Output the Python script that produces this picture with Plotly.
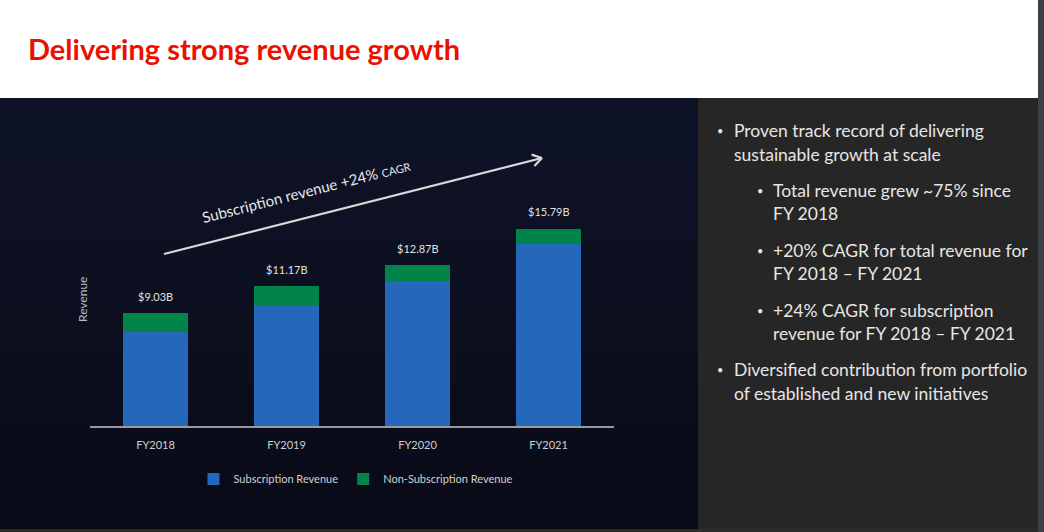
import math
import plotly.graph_objects as go

# ---------------- data ----------------
years = ["FY2018", "FY2019", "FY2020", "FY2021"]
subscription = [7.55, 9.63, 11.60, 14.58]
non_subscription = [1.48, 1.54, 1.27, 1.21]
total_labels = ["$9.03B", "$11.17B", "$12.87B", "$15.79B"]
totals = [s + n for s, n in zip(subscription, non_subscription)]

title_text = "Delivering strong revenue growth"
trend_text = "Subscription revenue +24% <span style='font-size:11px'>CAGR</span>"
bullets = [
    (0, ["Proven track record of delivering", "sustainable growth at scale"]),
    (1, ["Total revenue grew ~75% since", "FY 2018"]),
    (1, ["+20% CAGR for total revenue for", "FY 2018 \u2013 FY 2021"]),
    (1, ["+24% CAGR for subscription", "revenue for FY 2018 \u2013 FY 2021"]),
    (0, ["Diversified contribution from portfolio", "of established and new initiatives"]),
]

W, H = 1044, 532
FONT = "Lato"


def px(x):
    return x / W


def py(y):
    return 1 - y / H


fig = go.Figure()
fig.add_trace(go.Bar(
    x=years, y=subscription, name="Subscription Revenue",
    marker=dict(color="#2467bb", line=dict(width=0)),
))
fig.add_trace(go.Bar(
    x=years, y=non_subscription, name="Non-Subscription Revenue",
    marker=dict(color="#00844a", line=dict(width=0)),
))

shapes = []
shapes.append(dict(type="rect", xref="paper", yref="paper", x0=0, x1=1, y0=0, y1=1,
                   fillcolor="#ffffff", line=dict(width=0), layer="below"))
# bottom strip & right strip
shapes.append(dict(type="rect", xref="paper", yref="paper", x0=0, x1=px(1038),
                   y0=0, y1=py(528), fillcolor="#2b2b2b", line=dict(width=0), layer="below"))
shapes.append(dict(type="rect", xref="paper", yref="paper", x0=px(1038), x1=1,
                   y0=0, y1=1, fillcolor="#3d4147", line=dict(width=0), layer="below"))
# left navy panel base
shapes.append(dict(type="rect", xref="paper", yref="paper", x0=0, x1=px(698),
                   y0=py(529), y1=py(98), fillcolor="#0c0f1f", line=dict(width=0), layer="below"))
# soft vertical gradient bands (overlapping to avoid seams)
n_bands = 12
top_c = (15, 19, 39)
bot_c = (8, 11, 23)
y_top, y_bot = 98, 529
for i in range(n_bands):
    t = i / (n_bands - 1)
    c = tuple(round(top_c[k] + (bot_c[k] - top_c[k]) * t) for k in range(3))
    ya = y_top + (y_bot - y_top) * i / n_bands
    yb = min(y_bot, y_top + (y_bot - y_top) * (i + 1) / n_bands + 3)
    shapes.append(dict(type="rect", xref="paper", yref="paper",
                       x0=px(-2), x1=px(698), y0=py(yb), y1=py(ya),
                       fillcolor="rgb(%d,%d,%d)" % c, line=dict(width=0), layer="below"))
# right gray panel
shapes.append(dict(type="rect", xref="paper", yref="paper", x0=px(698), x1=px(1038),
                   y0=py(529), y1=py(98), fillcolor="#262626", line=dict(width=0), layer="below"))

# trend arrow
ax0, ay0, ax1, ay1 = 164, 254, 542, 158
shapes.append(dict(type="line", xref="paper", yref="paper", x0=px(ax0), y0=py(ay0),
                   x1=px(ax1), y1=py(ay1), line=dict(color="#d9d9d9", width=2.2)))
ang = math.atan2(ay1 - ay0, ax1 - ax0)
L = 11
for s in (1, -1):
    a = ang + math.pi - s * math.radians(32)
    shapes.append(dict(type="line", xref="paper", yref="paper", x0=px(ax1), y0=py(ay1),
                       x1=px(ax1 + L * math.cos(a)), y1=py(ay1 + L * math.sin(a)),
                       line=dict(color="#d9d9d9", width=2.2)))

annotations = []
annotations.append(dict(text="<b>" + title_text + "</b>", xref="paper", yref="paper",
                        x=px(26), y=py(48), xanchor="left", yanchor="middle", showarrow=False,
                        font=dict(family=FONT, size=29, color="#eb1000")))
annotations.append(dict(text=trend_text, xref="paper", yref="paper", x=px(306), y=py(191),
                        xanchor="center", yanchor="middle", showarrow=False, textangle=-14.3,
                        font=dict(family=FONT, size=15, color="#e8e8e8")))
annotations.append(dict(text="Revenue", xref="paper", yref="paper", x=px(82), y=py(300),
                        xanchor="center", yanchor="middle", showarrow=False, textangle=-90,
                        font=dict(family=FONT, size=12, color="#bfbfbf")))
for yr, tot, lab in zip(years, totals, total_labels):
    annotations.append(dict(text=lab, x=yr, y=tot, xref="x", yref="y", yshift=17,
                            xanchor="center", yanchor="middle", showarrow=False,
                            font=dict(family=FONT, size=11, color="#e0e0e0")))

# right panel bullet text
line_ys = [130, 154, 190, 213, 250, 273, 310, 333, 369, 393]
k = 0
for level, lines in bullets:
    bx = 720 if level == 0 else 760
    tx = 732 if level == 0 else 771
    annotations.append(dict(text="\u2022", xref="paper", yref="paper", x=px(bx), y=py(line_ys[k]),
                            xanchor="center", yanchor="middle", showarrow=False,
                            font=dict(family=FONT, size=11, color="#e6e6e6")))
    for ln in lines:
        annotations.append(dict(text=ln, xref="paper", yref="paper", x=px(tx), y=py(line_ys[k]),
                                xanchor="left", yanchor="middle", showarrow=False,
                                font=dict(family=FONT, size=17.5, color="#e6e6e6")))
        k += 1

y_range_top = (426 - 98) / 12.5

fig.update_layout(
    width=W, height=H,
    margin=dict(l=0, r=0, t=0, b=0),
    paper_bgcolor="#ffffff",
    plot_bgcolor="rgba(0,0,0,0)",
    barmode="stack",
    bargap=0.5,
    shapes=shapes,
    annotations=annotations,
    font=dict(family=FONT, color="#d9d9d9"),
    xaxis=dict(domain=[px(90), px(614)], range=[-0.5, 3.5], showgrid=False, zeroline=False,
               showline=True, linecolor="#9a9a9a", linewidth=2, ticks="",
               tickfont=dict(family=FONT, size=11, color="#d0d0d0"), ticklabelstandoff=8,
               fixedrange=True),
    yaxis=dict(domain=[py(426), py(98)], range=[0, y_range_top], visible=False,
               showgrid=False, zeroline=False, fixedrange=True),
    legend=dict(orientation="h", x=px(356), xanchor="center", y=py(479), yanchor="middle",
                bgcolor="rgba(0,0,0,0)", font=dict(family=FONT, size=11, color="#d0d0d0"),
                itemwidth=30, traceorder="normal", tracegroupgap=0),
    showlegend=True,
)

fig.write_html("out.html", config={"displayModeBar": False},
               post_script="document.body.style.margin='0';document.body.style.overflow='hidden';")
